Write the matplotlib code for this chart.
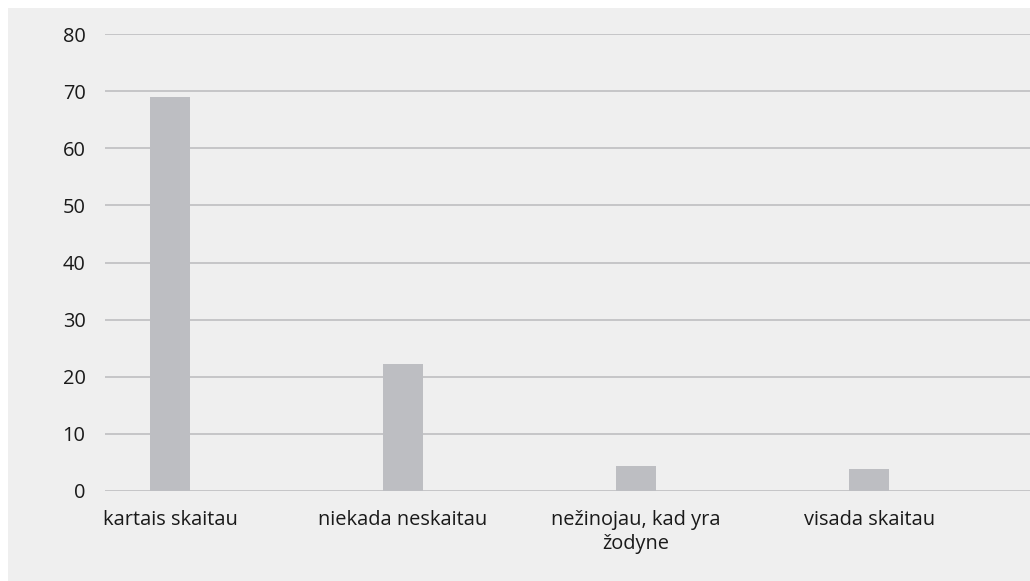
import numpy as np
import matplotlib.pyplot as plt
from matplotlib.patches import Rectangle

# Data
categories = ["kartais skaitau", "niekada neskaitau", "nežinojau, kad yra\nžodyne", "visada skaitau"]
values = [68.9, 22.2, 4.4, 3.9]
y_ticks = [0, 10, 20, 30, 40, 50, 60, 70, 80]

W, H = 1030, 581
fig = plt.figure(figsize=(W / 100, H / 100), dpi=100)
fig.patch.set_facecolor("white")
# light grey panel behind the chart
fig.add_artist(Rectangle((8 / W, 0), 1, (H - 8) / H, transform=fig.transFigure,
                         facecolor="#efefef", edgecolor="none", zorder=0))

ax = fig.add_axes([105 / W, (H - 491) / H, (W - 105) / W, (491 - 34) / H])
ax.set_facecolor("none")

x = np.arange(len(categories))
ax.bar(x, values, width=0.172, color="#bdbec2", zorder=3)

ax.set_ylim(0, 80)
ax.set_xlim(-0.279, 3.69)
ax.set_yticks(y_ticks)
ax.set_xticks(x)
ax.set_xticklabels(categories, fontsize=14.4, color="#1a1a1a", family="Open Sans",
                   linespacing=1.25)
ax.set_yticklabels([str(t) for t in y_ticks], fontsize=14.4, color="#1a1a1a", family="Open Sans")
ax.tick_params(axis="both", length=0)
ax.tick_params(axis="y", pad=14)
ax.tick_params(axis="x", pad=14)
ax.grid(axis="y", color="#c2c2c4", linewidth=1.3, zorder=1)
for s in ax.spines.values():
    s.set_visible(False)

fig.savefig("out.png", dpi=100)
